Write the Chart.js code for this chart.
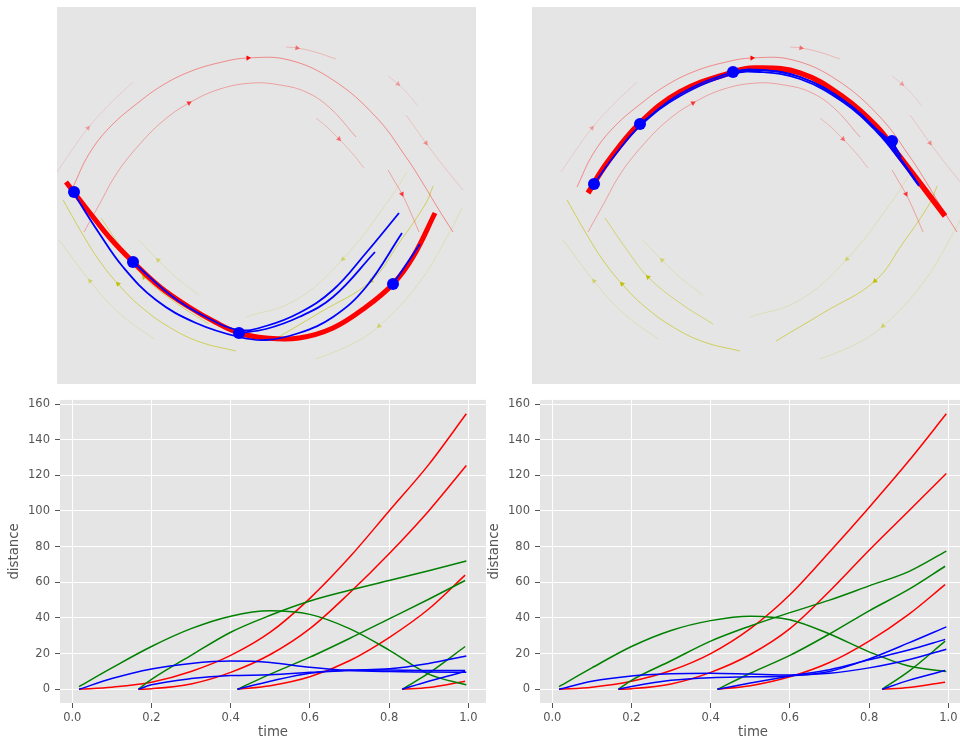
<!DOCTYPE html>
<html lang="en">
<head>
<meta charset="UTF-8">
<title>Trajectories</title>
<script src="https://cdn.jsdelivr.net/npm/chart.js"></script>
<style>
    html, body { margin: 0; padding: 0; background: #fff; overflow: hidden; }
    body { width: 960px; height: 741px; position: relative; }
    canvas { position: absolute; }
</style>
</head>
<body>
<canvas id="topLeft" width="419" height="377" style="left:57px; top:7px;"></canvas>
<canvas id="topRight" width="428" height="377" style="left:532px; top:7px;"></canvas>
<canvas id="bottomLeft" width="490" height="353" style="left:0px; top:388px;"></canvas>
<canvas id="bottomRight" width="490" height="353" style="left:480px; top:388px;"></canvas>

<script>
    // ---- phase panels: stream field shared by both, in field units ----
    const redStreams = [
        { pts: [[73,187],[89,154],[110,127],[139,102],[163,85],[189,72],[218,63],[248,58],[289,60],[333,80],[376,117],[406,157],[424,185],[439,210],[453,232]], arrow: 7, alpha: 0.4 },
        { pts: [[84,232],[99,205],[117,173],[139,145],[163,121],[189,103],[220,89],[253,83],[280,85],[306,92],[330,108],[356,137]], arrow: 5, alpha: 0.3 },
        { pts: [[57,172],[72,150],[88,128],[110,104],[133,82]], arrow: 2, alpha: 0.12 },
        { pts: [[286,47],[297,48],[315,52],[336,59]], arrow: 1, alpha: 0.2 },
        { pts: [[388,76],[398,84],[408,94],[418,106]], arrow: 1, alpha: 0.12 },
        { pts: [[406,115],[416,129],[426,143],[445,168],[463,190]], arrow: 2, alpha: 0.15 },
        { pts: [[316,118],[328,128],[339,139],[352,153],[364,168]], arrow: 2, alpha: 0.2 },
        { pts: [[388,170],[395,182],[402,194],[410,211],[419,232]], arrow: 2, alpha: 0.3 }
    ];
    const yellowStreams = [
        { pts: [[63,200],[86,240],[101,263],[118,284],[140,306],[169,327],[200,342],[236,351]], arrow: 3, alpha: 0.6 },
        { pts: [[101,218],[123,250],[144,277],[176,303],[209,324]], arrow: 2, alpha: 0.5 },
        { pts: [[59,240],[90,281],[119,313],[154,339]], arrow: 1, alpha: 0.2 },
        { pts: [[139,240],[158,260],[178,279],[199,295]], arrow: 1, alpha: 0.2 },
        { pts: [[246,317],[296,300],[343,259],[389,200],[407,172]], arrow: 2, alpha: 0.2 },
        { pts: [[272,341],[319,313],[371,281],[399,243],[426,203],[433,186]], arrow: 2, alpha: 0.6 },
        { pts: [[316,359],[350,345],[379,326],[419,283],[451,230],[462,208]], arrow: 2, alpha: 0.2 }
    ];

    // left phase panel
    const leftPath = [[66,182],[90,213],[110,238],[133,262],[160,287],[189,307],[215,322],[239,333],[266,338],[299,338],[333,328],[366,307],[393,284],[413,257],[435,213]];
    const leftDots = [[74,192],[133,262],[239,333],[393,284]];
    const leftGuesses = [
        [[74,192],[78,200],[99,233],[123,267],[156,300],[196,323],[239,337],[266,340],[299,333],[333,317],[366,287],[402,233]],
        [[133,262],[173,297],[206,317],[239,330],[266,326],[299,313],[333,290],[366,253],[399,213]],
        [[239,333],[266,329],[299,317],[333,297],[375,252]],
        [[393,284],[420,244]]
    ];

    // right phase panel
    const rightPath = [[84,193],[103,163],[136,123],[176,92],[229,72],[251,68],[296,73],[339,97],[373,127],[396,157],[419,187],[441,216]];
    const rightDots = [[90,184],[136,124],[229,72],[388,141]];
    const rightGuesses = [
        [[90,184],[111,155],[136,126],[176,96],[229,74],[256,72],[296,79],[339,102],[373,132],[396,160],[415,186]],
        [[136,124],[176,94],[229,72],[256,70],[296,77],[339,100],[373,130],[388,143],[393,156]],
        [[229,72],[256,70],[296,77],[339,100],[373,130],[396,158],[415,185]],
        [[388,141],[393,150],[397,157]]
    ];

    // ---- distance vs time panels ----
    const times = [
        [0.017, 0.1, 0.2, 0.3, 0.4, 0.5, 0.6, 0.7, 0.8, 0.9, 0.995],
        [0.167, 0.2, 0.3, 0.4, 0.5, 0.6, 0.7, 0.8, 0.9, 0.995],
        [0.417, 0.5, 0.6, 0.7, 0.8, 0.9, 0.992],
        [0.833, 0.9, 0.992]
    ];
    const leftRed = [
        [0, 1.2, 4, 10, 19, 32, 51, 74, 100, 126, 154.5],
        [0, 0.3, 3, 9.5, 19.5, 34, 54, 76, 100, 125.5],
        [0, 2, 7, 16, 29, 45, 64],
        [0, 1, 4.5]
    ];
    const leftGreen = [
        [1.5, 12, 24, 34, 41, 44, 42, 34, 22, 8.5, 2.5],
        [0, 5.5, 19, 32, 41.5, 49.5, 55.5, 61, 66.5, 72],
        [0, 8.5, 18, 28.5, 39.5, 50.5, 61],
        [0, 9, 24]
    ];
    const leftBlue = [
        [0, 6, 11.4, 14.5, 15.8, 15, 12.3, 10.5, 9.9, 9.7, 9.5],
        [0, 2.5, 6, 7.7, 8.1, 9.5, 10.8, 11.5, 14.5, 18.7],
        [0, 4.5, 9, 10.5, 10.8, 10.5, 10.5],
        [0, 4.5, 10]
    ];
    const rightRed = [
        [0, 1.2, 4.5, 10.5, 20, 34, 53, 77, 102, 128, 154.5],
        [0, 0.3, 3, 9.5, 19.5, 34, 55, 78, 100, 121],
        [0, 2, 7, 15, 27, 42, 58.7],
        [0, 1, 4]
    ];
    const rightGreen = [
        [1.5, 12, 24, 33, 38.5, 41, 39, 31, 21, 13, 10],
        [0, 5, 16, 27, 35.5, 43, 50, 58, 66, 77.5],
        [0, 9, 19, 31, 44, 56, 69],
        [0, 10, 27]
    ];
    const rightBlue = [
        [0, 4.5, 7.5, 8.7, 9, 8.5, 8, 9, 12, 16.5, 22.5],
        [0, 1.5, 5, 6.5, 7, 7.5, 10, 17, 26, 35],
        [0, 3.5, 7.5, 11, 16.5, 22, 28],
        [0, 5, 10.5]
    ];

    const FONT = 'DejaVu Sans';
    Chart.defaults.font.family = FONT;

    // grey panel background (ggplot look)
    const panelBackground = {
        id: 'panelBackground',
        beforeDraw(chart) {
            const { ctx, chartArea: a } = chart;
            ctx.save();
            ctx.fillStyle = '#e5e5e5';
            ctx.fillRect(a.left, a.top, a.right - a.left, a.bottom - a.top);
            ctx.restore();
        }
    };

    function pts(list) {
        return list.map(([x, y]) => ({ x, y }));
    }

    function lineSet(list, color, width) {
        return {
            data: pts(list), showLine: true, borderColor: color, borderWidth: width,
            pointRadius: 0, tension: 0.4, fill: false
        };
    }

    // small triangle markers along the stream lines
    function arrowSet(streams, rgb, flip) {
        const data = [], rot = [], colors = [];
        streams.forEach(s => {
            const i = s.arrow;
            const a = s.pts[Math.max(i - 1, 0)];
            const b = s.pts[Math.min(i + 1, s.pts.length - 1)];
            data.push({ x: s.pts[i][0], y: s.pts[i][1] });
            rot.push(Math.atan2(b[0] - a[0], -(b[1] - a[1])) * 180 / Math.PI + (flip ? 180 : 0));
            colors.push(`rgba(${rgb},${Math.min(1, s.alpha * 2.5)})`);
        });
        return {
            data, showLine: false, pointStyle: 'triangle', pointRotation: rot,
            pointRadius: 3, pointBackgroundColor: colors, pointBorderWidth: 0
        };
    }

    function phaseChart(id, xmin, xmax, path, dots, guesses, pathWidth) {
        const datasets = [];
        datasets.push({
            data: pts(dots), showLine: false, pointRadius: 6,
            pointBackgroundColor: '#0000ff', pointBorderWidth: 0
        });
        guesses.forEach(g => datasets.push(lineSet(g, '#0000ff', 1.8)));
        datasets.push(lineSet(path, '#ff0000', pathWidth));
        datasets.push(arrowSet(redStreams, '255,0,0', false));
        datasets.push(arrowSet(yellowStreams, '191,191,0', true));
        redStreams.forEach(s => datasets.push(lineSet(s.pts, `rgba(255,0,0,${s.alpha})`, 1)));
        yellowStreams.forEach(s => datasets.push(lineSet(s.pts, `rgba(191,191,0,${s.alpha})`, 1)));

        new Chart(document.getElementById(id), {
            type: 'scatter',
            data: { datasets },
            options: {
                responsive: false,
                animation: false,
                devicePixelRatio: 1,
                layout: { padding: 0, autoPadding: false },
                plugins: { legend: { display: false }, tooltip: { enabled: false } },
                scales: {
                    x: { type: 'linear', display: false, min: xmin, max: xmax },
                    y: { type: 'linear', display: false, min: 7, max: 384, reverse: true }
                }
            },
            plugins: [panelBackground]
        });
    }

    function timeChart(id, red, green, blue) {
        const datasets = [];
        const groups = [[blue, '#0000ff'], [green, '#008000'], [red, '#ff0000']];
        groups.forEach(([series, color]) => {
            series.forEach((vals, k) => {
                datasets.push({
                    data: vals.map((d, i) => ({ x: times[k][i], y: d })),
                    showLine: true, borderColor: color, borderWidth: 1.5,
                    pointRadius: 0, cubicInterpolationMode: 'monotone', fill: false
                });
            });
        });

        new Chart(document.getElementById(id), {
            type: 'scatter',
            data: { datasets },
            options: {
                responsive: false,
                animation: false,
                devicePixelRatio: 1,
                layout: { padding: { top: 6, right: 4, left: 0, bottom: 0 }, autoPadding: false },
                plugins: { legend: { display: false }, tooltip: { enabled: false } },
                scales: {
                    x: {
                        type: 'linear', min: -0.031, max: 1.0447,
                        afterFit: s => { s.height = 38; },
                        ticks: {
                            stepSize: 0.2, includeBounds: false, color: '#555555', padding: 3,
                            font: { size: 11.5 }, callback: v => v.toFixed(1)
                        },
                        grid: { color: '#ffffff', lineWidth: 1, tickColor: '#555555', tickLength: 5 },
                        border: { display: false },
                        title: { display: true, text: 'time', color: '#555555', font: { size: 13.3 }, padding: 0 }
                    },
                    y: {
                        type: 'linear', min: -7.7, max: 162.3,
                        afterFit: s => { s.width = 60; },
                        ticks: {
                            stepSize: 20, includeBounds: false, color: '#555555', padding: 5,
                            font: { size: 11.5 }
                        },
                        grid: { color: '#ffffff', lineWidth: 1, tickColor: '#555555', tickLength: 5 },
                        border: { display: false },
                        title: { display: true, text: 'distance', color: '#555555', font: { size: 13.3 }, padding: 7 }
                    }
                }
            },
            plugins: [panelBackground]
        });
    }

    phaseChart('topLeft', 57, 476, leftPath, leftDots, leftGuesses, 5);
    phaseChart('topRight', 28, 456, rightPath, rightDots, rightGuesses, 5.5);
    timeChart('bottomLeft', leftRed, leftGreen, leftBlue);
    timeChart('bottomRight', rightRed, rightGreen, rightBlue);
</script>
</body>
</html>
